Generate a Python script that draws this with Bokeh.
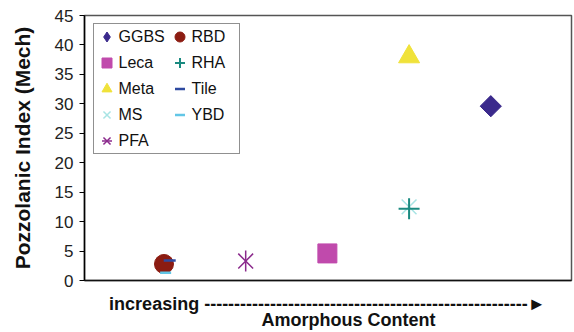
import math
from bokeh.plotting import figure
from bokeh.models import (Range1d, FixedTicker, Legend, LegendItem, LinearAxis,
                          ColumnDataSource)
from bokeh.embed import file_html
from bokeh.resources import INLINE

# ---- data ----
materials = ["GGBS", "Leca", "Meta", "MS", "PFA", "RBD", "RHA", "Tile", "YBD"]
amorphous_rank = [5.0, 3.0, 4.0, 4.0, 2.0, 1.0, 4.0, 1.07, 1.02]
pozzolanic_index = [29.6, 4.6, 38.0, 12.5, 3.3, 2.8, 12.2, 3.4, 1.3]
y_ticks = [0, 5, 10, 15, 20, 25, 30, 35, 40, 45]
x_caption = "increasing " + "-" * 54 + "\u25ba"
x_title = "Amorphous Content"
y_title = "Pozzolanic Index (Mech)"

FONT = "Liberation Sans"

p = figure(width=574, height=332, output_backend="svg", toolbar_location=None,
           x_range=Range1d(0.027, 5.988), y_range=Range1d(0, 45),
           min_border_left=84, min_border_right=3, min_border_top=15,
           min_border_bottom=52)
p.xgrid.visible = False
p.ygrid.visible = False
p.outline_line_color = "#555555"
p.outline_line_width = 1.5
p.background_fill_color = "white"
p.border_fill_color = "white"

style = {
    "GGBS": [dict(marker="diamond", size=20, fill_color="#3b2a8c", line_color="#3b2a8c"),
             dict(marker="square", size=15, angle=math.pi / 4,
                  fill_color="#3b2a8c", line_color="#3b2a8c")],
    "Leca": [dict(marker="square", size=19, fill_color="#c04aac", line_color="#c04aac")],
    "Meta": [dict(marker="triangle", size=21, fill_color="#f0e23a", line_color="#f0e23a")],
    "MS": [dict(marker="x", size=21, line_color="#a8e4e4", line_width=1.5)],
    "PFA": [dict(marker="x", size=21, line_color="#8b2a8c", line_width=1.5),
            dict(marker="dash", size=21, angle=math.pi / 2, line_color="#8b2a8c", line_width=1.5)],
    "RBD": [dict(marker="circle", size=19, fill_color="#8c1c12", line_color="#8c1c12")],
    "RHA": [dict(marker="cross", size=21, line_color="#1a8a80", line_width=2)],
    "Tile": [dict(marker="dash", size=12, line_color="#2e4aa0", line_width=2.5)],
    "YBD": [dict(marker="dash", size=11, line_color="#62c6e6", line_width=2.5)],
}
# which of the renderers represent the series in the legend
legend_use = {"GGBS": [0]}

items = []
for name, xv, yv in zip(materials, amorphous_rank, pozzolanic_index):
    src = ColumnDataSource(dict(x=[xv], y=[yv]))
    rs = [p.scatter("x", "y", source=src, **st) for st in style[name]]
    if name in legend_use:
        rs = [rs[i] for i in legend_use[name]]
    items.append(LegendItem(label=name, renderers=rs))

legend = Legend(items=items, location=(8.5, 126), nrows=5, orientation="vertical",
                glyph_width=25, glyph_height=25, spacing=1, padding=0, margin=0,
                label_standoff=0, label_width=47, label_text_font=FONT,
                label_text_font_size="16px", label_text_color="#111111",
                border_line_color="#222222", border_line_width=1.5,
                background_fill_color="white", background_fill_alpha=1)
p.add_layout(legend)

yax = p.yaxis[0]
yax.ticker = FixedTicker(ticks=y_ticks)
yax.axis_label = y_title
yax.axis_label_text_font = FONT
yax.axis_label_text_font_size = "21px"
yax.axis_label_text_font_style = "bold"
yax.axis_label_text_color = "#111111"
yax.axis_label_standoff = 18
yax.major_label_text_font = FONT
yax.major_label_text_font_size = "17px"
yax.major_label_text_color = "#222222"
yax.major_label_standoff = 6
yax.major_tick_out = 5
yax.major_tick_in = 0
yax.minor_tick_line_color = None
yax.axis_line_color = "black"
yax.axis_line_width = 1.5
yax.major_tick_line_width = 1

# first x axis: frame bottom line + "increasing ----->" caption
CAPTION_POS = 3.0
TITLE_POS = 3.258
xax = p.xaxis[0]
xax.ticker = FixedTicker(ticks=[CAPTION_POS])
xax.major_label_overrides = {CAPTION_POS: x_caption}
xax.major_label_text_font = FONT
xax.major_label_text_font_size = "18px"
xax.major_label_text_font_style = "bold"
xax.major_label_text_color = "#111111"
xax.major_label_standoff = 13
xax.major_tick_out = 0
xax.major_tick_in = 0
xax.major_tick_line_color = None
xax.minor_tick_line_color = None
xax.axis_line_color = "#111111"
xax.axis_line_width = 1.5

# second x axis: "Amorphous Content"
xax2 = LinearAxis(ticker=FixedTicker(ticks=[TITLE_POS]),
                  major_label_overrides={TITLE_POS: x_title},
                  major_label_text_font=FONT, major_label_text_font_size="18px",
                  major_label_text_font_style="bold", major_label_text_color="#111111",
                  major_label_standoff=-7, major_tick_out=0, major_tick_in=0,
                  major_tick_line_color=None, minor_tick_line_color=None,
                  axis_line_color=None)
p.add_layout(xax2, "below")

open("out.html", "w").write(file_html(p, INLINE))
